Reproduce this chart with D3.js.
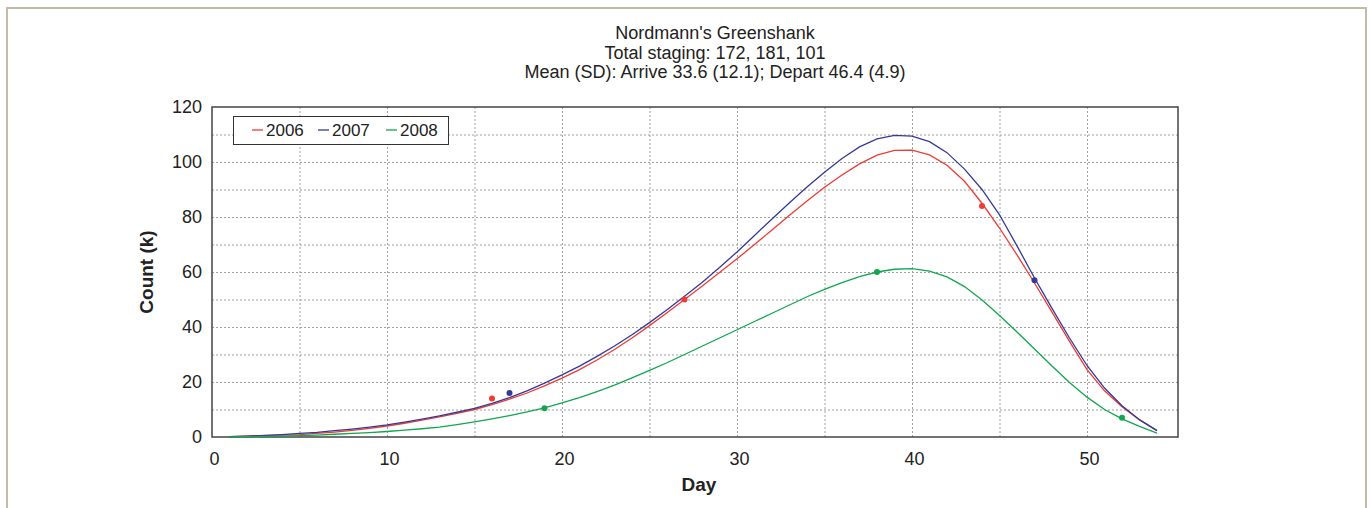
<!DOCTYPE html>
<html>
<head>
<meta charset="utf-8">
<script src="https://cdn.jsdelivr.net/npm/d3@7"></script>
<style>
  body { margin: 0; background: #fff; }
  svg { display: block; font-family: "Liberation Sans", Arial, sans-serif; }
</style>
</head>
<body>
<div id="chart"></div>
<script>
// Chart data
const titleLines = ["Nordmann's Greenshank", "Total staging: 172, 181, 101", "Mean (SD): Arrive 33.6 (12.1); Depart 46.4 (4.9)"];
const years = ["2006", "2007", "2008"];
const days = d3.range(1, 55);
const counts2006 = [0.1, 0.3, 0.5, 0.7, 0.9, 1.3, 1.8, 2.4, 3.1, 4.0, 5.0, 6.1, 7.3, 8.6, 10.0, 11.8, 13.8, 16.0, 18.6, 21.4,
  24.5, 28.0, 31.8, 36.0, 40.5, 45.2, 50.0, 54.8, 59.8, 64.8, 70.0, 75.3, 80.6, 85.8, 90.8, 95.3, 99.3, 102.5, 104.2, 104.3,
  102.6, 98.8, 93.0, 85.0, 76.0, 66.2, 56.0, 45.4, 34.8, 24.5, 16.8, 11.0, 6.2, 2.3];
const counts2007 = [0.1, 0.3, 0.6, 0.9, 1.3, 1.7, 2.3, 2.9, 3.6, 4.4, 5.4, 6.5, 7.7, 9.0, 10.4, 12.2, 14.3, 16.8, 19.6, 22.6,
  25.8, 29.3, 33.1, 37.2, 41.6, 46.3, 51.2, 56.2, 61.6, 67.3, 73.3, 79.3, 85.2, 90.9, 96.3, 101.3, 105.5, 108.4, 109.7, 109.4,
  107.4, 103.4, 97.4, 90.0, 80.8, 69.5, 57.8, 46.8, 36.0, 26.0, 17.8, 11.4, 6.3, 2.3];
const counts2008 = [0.0, 0.1, 0.2, 0.3, 0.5, 0.7, 1.0, 1.3, 1.6, 2.0, 2.5, 3.0, 3.6, 4.5, 5.5, 6.6, 7.8, 9.1, 10.6, 12.4,
  14.3, 16.5, 18.9, 21.5, 24.2, 27.0, 30.0, 33.0, 36.0, 39.0, 42.0, 45.0, 48.0, 51.0, 53.7, 56.1, 58.3, 60.0, 61.0, 61.2,
  60.3, 58.2, 54.7, 49.8, 44.2, 38.2, 32.0, 25.8, 19.8, 14.5, 10.0, 6.6, 3.9, 1.4];
// Single observed points (day, count) per year
const pointDays2006 = [16, 27, 44];
const pointCounts2006 = [14, 50, 84];
const pointDays2007 = [17, 47];
const pointCounts2007 = [16, 57];
const pointDays2008 = [19, 38, 52];
const pointCounts2008 = [10.5, 60, 7];
const xTicks = [0, 10, 20, 30, 40, 50];
const yTicks = [0, 20, 40, 60, 80, 100, 120];

const colours = ["#ee3b36", "#343a98", "#11a650"];

const width = 1371, height = 508;
const margin = { left: 212, right: 193, top: 107, bottom: 71 };

const svg = d3.select("#chart").append("svg")
    .attr("width", width)
    .attr("height", height);

// Outer tan frame
svg.append("rect")
    .attr("x", 7).attr("y", 8)
    .attr("width", 1359).attr("height", 520)
    .attr("fill", "none")
    .attr("stroke", "#c6baa9")
    .attr("stroke-width", 2);

const x = d3.scaleLinear().domain([0, 55.2]).range([margin.left, width - margin.right]);
const y = d3.scaleLinear().domain([0, 120]).range([height - margin.bottom, margin.top]);

// Title
svg.append("g").selectAll("text")
    .data(titleLines)
    .enter()
    .append("text")
    .attr("x", 715)
    .attr("y", (d, i) => 39 + i * 19.5)
    .attr("text-anchor", "middle")
    .attr("font-size", 18)
    .attr("fill", "#222")
    .text(d => d);

// Dotted grid
svg.append("g")
    .attr("transform", `translate(0,${y(0)})`)
    .call(d3.axisBottom(x).tickValues(d3.range(5, 55, 5)).tickSize(-(y(0) - y(120))).tickFormat(""))
    .call(g => g.select(".domain").remove())
    .call(g => g.selectAll("line").attr("stroke", "#a0a0a0").attr("stroke-dasharray", "2,2"));

svg.append("g")
    .attr("transform", `translate(${x(0)},0)`)
    .call(d3.axisLeft(y).tickValues(d3.range(10, 120, 10)).tickSize(-(x.range()[1] - x(0))).tickFormat(""))
    .call(g => g.select(".domain").remove())
    .call(g => g.selectAll("line").attr("stroke", "#a0a0a0").attr("stroke-dasharray", "2,2"));

// Plot border
svg.append("rect")
    .attr("x", x(0)).attr("y", y(120))
    .attr("width", x.range()[1] - x(0))
    .attr("height", y(0) - y(120))
    .attr("fill", "none")
    .attr("stroke", "#444")
    .attr("stroke-width", 1.5);

// Axes (labels only)
svg.append("g")
    .attr("transform", `translate(2,${y(0)})`)
    .call(d3.axisBottom(x).tickValues(xTicks).tickSize(0).tickPadding(15))
    .call(g => g.select(".domain").remove())
    .call(g => g.selectAll("text").attr("font-size", 18).attr("fill", "#222").attr("font-family", "Liberation Sans, Arial, sans-serif"));

svg.append("g")
    .attr("transform", `translate(${x(0)},0)`)
    .call(d3.axisLeft(y).tickValues(yTicks).tickSize(0).tickPadding(10))
    .call(g => g.select(".domain").remove())
    .call(g => g.selectAll("text").attr("font-size", 18).attr("fill", "#222").attr("font-family", "Liberation Sans, Arial, sans-serif"));

// Axis titles
svg.append("text")
    .attr("x", 699).attr("y", 491)
    .attr("text-anchor", "middle")
    .attr("font-size", 19).attr("font-weight", "bold").attr("fill", "#222")
    .text("Day");

svg.append("text")
    .attr("transform", `translate(153,${(y(0) + y(120)) / 2}) rotate(-90)`)
    .attr("text-anchor", "middle")
    .attr("font-size", 19).attr("font-weight", "bold").attr("fill", "#222")
    .text("Count (k)");

// Curves
const series = [counts2006, counts2007, counts2008];
const line = d3.line()
    .x((d, i) => x(days[i]))
    .y(d => y(d));

series.forEach((vals, i) => {
    svg.append("path")
        .datum(vals)
        .attr("d", line)
        .attr("fill", "none")
        .attr("stroke", colours[i])
        .attr("stroke-width", 1.3);
});

// Observed points
const pointSets = [
    [pointDays2006, pointCounts2006],
    [pointDays2007, pointCounts2007],
    [pointDays2008, pointCounts2008]
];
pointSets.forEach(([pd, pc], i) => {
    svg.append("g").selectAll("circle")
        .data(pd)
        .enter()
        .append("circle")
        .attr("cx", d => x(d))
        .attr("cy", (d, j) => y(pc[j]))
        .attr("r", 3)
        .attr("fill", colours[i]);
});

// Legend
const legend = svg.append("g");
legend.append("rect")
    .attr("x", 233.5).attr("y", 116.5)
    .attr("width", 215).attr("height", 28)
    .attr("fill", "#fff")
    .attr("stroke", "#333")
    .attr("stroke-width", 1);

const legendX = [252, 318, 386];
years.forEach((yr, i) => {
    legend.append("line")
        .attr("x1", legendX[i]).attr("x2", legendX[i] + 11)
        .attr("y1", 130).attr("y2", 130)
        .attr("stroke", colours[i])
        .attr("stroke-width", 1.3);
    legend.append("text")
        .attr("x", legendX[i] + 14).attr("y", 136)
        .attr("font-size", 17).attr("fill", "#222")
        .text(yr);
});
</script>
</body>
</html>
